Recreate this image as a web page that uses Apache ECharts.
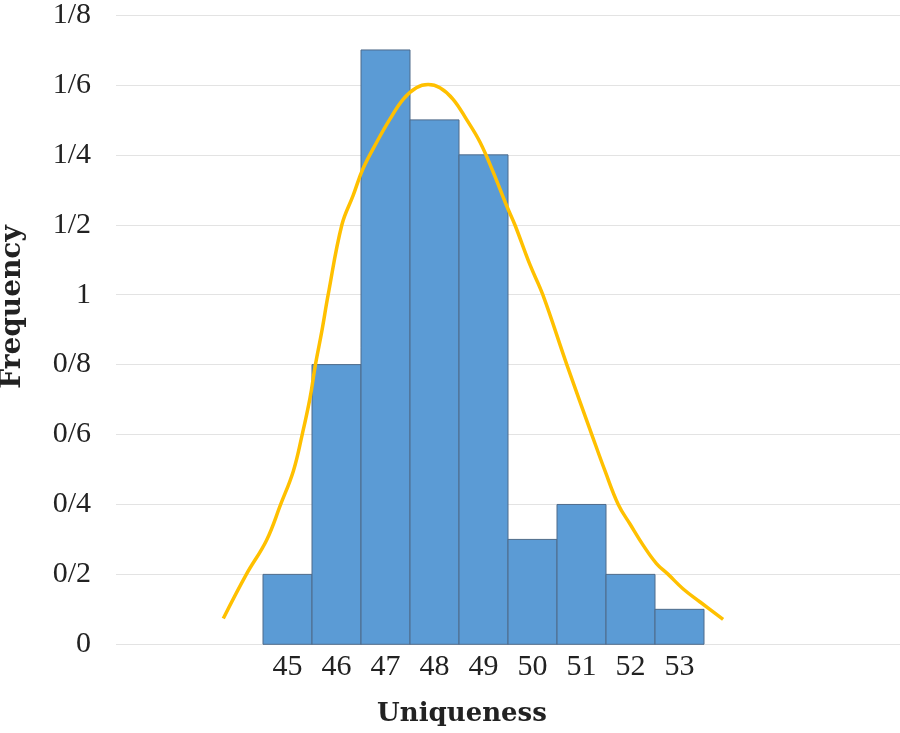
<!DOCTYPE html>
<html>
<head>
<meta charset="utf-8">
<style>html,body{margin:0;padding:0;background:#fff;}#c{width:900px;height:733px;}</style>
<script src="https://cdn.jsdelivr.net/npm/echarts@6/dist/echarts.min.js"></script>
</head>
<body>
<div id="c"></div>
<script>
// Histogram bins (Uniqueness) and frequencies
var categories = [45, 46, 47, 48, 49, 50, 51, 52, 53];
var frequencies = [0.2, 0.8, 1.7, 1.5, 1.4, 0.3, 0.4, 0.2, 0.1];
// Fitted curve, points
var curveX = [43.69, 44.16, 44.57, 44.86, 45.12, 45.30, 45.46, 45.57, 45.70, 45.83, 46.11, 46.34, 46.54, 46.82, 47.09, 47.36, 47.63, 47.87, 48.11, 48.38, 48.65, 48.93, 49.20, 49.47, 49.64, 49.95, 50.21, 50.70, 51.21, 51.48, 51.75, 51.99, 52.26, 52.53, 52.77, 53.07, 53.42, 53.89];
var curveY = [0.074, 0.200, 0.297, 0.400, 0.496, 0.600, 0.705, 0.800, 0.895, 1.000, 1.200, 1.284, 1.360, 1.436, 1.502, 1.559, 1.592, 1.601, 1.592, 1.559, 1.502, 1.436, 1.350, 1.255, 1.200, 1.085, 1.000, 0.800, 0.600, 0.496, 0.400, 0.344, 0.283, 0.231, 0.200, 0.159, 0.121, 0.071];

var barData = categories.map(function (c, i) { return [c, frequencies[i]]; });
var lineData = curveX.map(function (x, i) { return [x, curveY[i]]; });

var chart = echarts.init(document.getElementById('c'), null, {renderer: 'canvas'});
var serif = '"Liberation Serif", "Times New Roman", serif';
chart.setOption({
  animation: false,
  backgroundColor: '#ffffff',
  grid: {left: 116, right: 0, top: 12, bottom: 88.7, containLabel: false},
  xAxis: {
    type: 'value', min: 41.5, max: 57.5,
    axisLine: {show: false}, axisTick: {show: false}, splitLine: {show: false},
    axisLabel: {customValues: categories, color: '#222', fontFamily: serif, fontSize: 30, margin: 8,
      formatter: function (v) { return String(v); }}
  },
  yAxis: {
    type: 'value', min: 0, max: 1.8, interval: 0.2,
    axisLine: {show: false}, axisTick: {show: false},
    splitLine: {show: true, lineStyle: {color: '#e3e3e3', width: 1}},
    axisLabel: {color: '#222', fontFamily: serif, fontSize: 30, margin: 25,
      formatter: function (v) { return String(Math.round(v * 10) / 10).replace('.', '/'); }}
  },
  series: [
    {
      type: 'custom',
      data: barData,
      encode: {x: 0, y: 1},
      renderItem: function (params, api) {
        var x = api.value(0), y = api.value(1);
        var p0 = api.coord([x - 0.5, y]);
        var p1 = api.coord([x + 0.5, 0]);
        return {
          type: 'rect',
          shape: {x: p0[0], y: p0[1], width: p1[0] - p0[0], height: p1[1] - p0[1]},
          style: {fill: '#5b9bd5', stroke: '#4f6b8a', lineWidth: 1}
        };
      },
      z: 2
    },
    {
      type: 'line',
      data: lineData,
      smooth: 0.4,
      showSymbol: false,
      lineStyle: {color: '#ffc000', width: 3.5},
      z: 3
    }
  ],
  graphic: [
    {type: 'text', x: 462, y: 714, style: {text: 'Uniqueness', fill: '#222', font: 'bold 26px "DejaVu Serif", serif', align: 'center', verticalAlign: 'middle'}},
    {type: 'text', x: 13, y: 307, rotation: Math.PI / 2, style: {text: 'Frequency', fill: '#222', font: 'bold 28px "DejaVu Serif", serif', align: 'center', verticalAlign: 'middle'}}
  ]
});
</script>
</body>
</html>
